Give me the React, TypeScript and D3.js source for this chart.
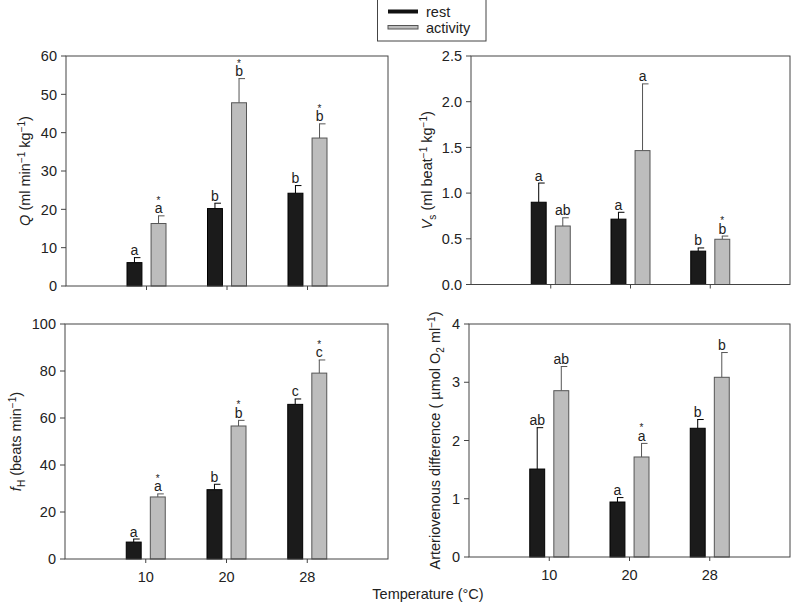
import React from 'react';
import * as d3 from 'd3';

const categories = ['10', '20', '28'];
const series = ['rest', 'activity'];

const qRest = [6.1, 20.2, 24.2];
const qRestSE = [1.3, 1.4, 2.0];
const qAct = [16.3, 47.8, 38.6];
const qActSE = [2.0, 6.3, 3.7];
const qRestLetters = ['a', 'b', 'b'];
const qActLetters = ['a', 'b', 'b'];
const qActStars = [true, true, true];

const vsRest = [0.9, 0.715, 0.365];
const vsRestSE = [0.21, 0.075, 0.035];
const vsAct = [0.64, 1.465, 0.495];
const vsActSE = [0.09, 0.73, 0.035];
const vsRestLetters = ['a', 'a', 'b'];
const vsActLetters = ['ab', 'a', 'b'];
const vsActStars = [false, false, true];

const fhRest = [7.2, 29.5, 65.8];
const fhRestSE = [1.3, 2.3, 2.3];
const fhAct = [26.4, 56.6, 79.1];
const fhActSE = [1.3, 2.4, 5.6];
const fhRestLetters = ['a', 'b', 'c'];
const fhActLetters = ['a', 'b', 'c'];
const fhActStars = [true, true, true];

const avRest = [1.51, 0.944, 2.21];
const avRestSE = [0.71, 0.076, 0.15];
const avAct = [2.855, 1.717, 3.085];
const avActSE = [0.415, 0.233, 0.425];
const avRestLetters = ['ab', 'a', 'b'];
const avActLetters = ['ab', 'a', 'b'];
const avActStars = [false, true, false];

const qTicks = [0, 10, 20, 30, 40, 50, 60];
const vsTicks = [0, 0.5, 1.0, 1.5, 2.0, 2.5];
const fhTicks = [0, 20, 40, 60, 80, 100];
const avTicks = [0, 1, 2, 3, 4];

const FONT = 'Liberation Sans, Arial, sans-serif';
const FS = 14.5;
const TEXT = '#222';
const AXIS = '#444';
const REST_FILL = '#1b1b1b';
const ACT_FILL = '#bdbdbd';
const ACT_STROKE = '#555';

type PanelProps = {
  x0: number; x1: number; y0: number; y1: number;
  domain: [number, number]; ticks: number[]; fmt: (v: number) => string;
  rest: number[]; restSE: number[]; act: number[]; actSE: number[];
  restLetters: string[]; actLetters: string[]; actStars: boolean[];
  showXLabels: boolean;
  label: React.ReactNode; labelX: number;
};

function Panel(p: PanelProps) {
  const x = d3.scalePoint<string>().domain(categories).range([p.x0, p.x1]).padding(1);
  const inner = d3.scaleBand<string>().domain(series).range([-19.5, 19.5]).paddingInner(0.38);
  const y = d3.scaleLinear().domain(p.domain).range([p.y1, p.y0]);
  const bw = inner.bandwidth();
  const bars: React.ReactNode[] = [];
  categories.forEach((c, i) => {
    const cx = x(c)!;
    const groups = [
      { s: 'rest', v: p.rest[i], se: p.restSE[i], l: p.restLetters[i], star: false, fill: REST_FILL, stroke: '#000' },
      { s: 'activity', v: p.act[i], se: p.actSE[i], l: p.actLetters[i], star: p.actStars[i], fill: ACT_FILL, stroke: ACT_STROKE },
    ];
    groups.forEach((g) => {
      const bx = cx + inner(g.s)!;
      const mid = bx + bw / 2;
      const top = y(g.v);
      const et = y(g.v + g.se);
      bars.push(
        <g key={c + g.s}>
          <line x1={mid} x2={mid} y1={top} y2={et} stroke={g.stroke} strokeWidth={1} />
          <line x1={mid - 0.5} x2={mid + 6} y1={et} y2={et} stroke={g.stroke} strokeWidth={1} />
          <rect x={bx} y={top} width={bw} height={p.y1 - top} fill={g.fill} stroke={g.stroke} strokeWidth={1} />
          <text x={mid} y={et - 2.5} textAnchor="middle" fontSize={14} fill={TEXT} fontFamily={FONT}>{g.l}</text>
          {g.star && (
            <text x={mid} y={et - 12} textAnchor="middle" fontSize={10} fill={TEXT} fontFamily={FONT}>*</text>
          )}
        </g>
      );
    });
  });
  return (
    <g>
      {bars}
      <rect x={p.x0} y={p.y0} width={p.x1 - p.x0} height={p.y1 - p.y0} fill="none" stroke={AXIS} strokeWidth={1} />
      {p.ticks.map((t) => (
        <g key={t}>
          <line x1={p.x0 - 5} x2={p.x0} y1={y(t)} y2={y(t)} stroke={AXIS} />
          <text x={p.x0 - 9} y={y(t)} dy="0.36em" textAnchor="end" fontSize={FS} fill={TEXT} fontFamily={FONT}>{p.fmt(t)}</text>
        </g>
      ))}
      {categories.map((c) => (
        <g key={c}>
          <line x1={x(c)!} x2={x(c)!} y1={p.y1} y2={p.y1 + 4} stroke={AXIS} />
          {p.showXLabels && (
            <text x={x(c)!} y={p.y1 + 22.5} textAnchor="middle" fontSize={FS} fill={TEXT} fontFamily={FONT}>{c}</text>
          )}
        </g>
      ))}
      <text transform={`translate(${p.labelX},${(p.y0 + p.y1) / 2}) rotate(-90)`} textAnchor="middle" dy="0.35em" fontSize={FS} fill={TEXT} fontFamily={FONT}>
        {p.label}
      </text>
    </g>
  );
}

const sup = (s: string, after: string) => (
  <>
    <tspan dy={-5.5} fontSize={10}>{s}</tspan>
    <tspan dy={5.5}>{after}</tspan>
  </>
);
const sub = (s: string, after: string) => (
  <>
    <tspan dy={4} fontSize={10}>{s}</tspan>
    <tspan dy={-4}>{after}</tspan>
  </>
);

export default function App() {
  const f1 = (v: number) => d3.format('.1f')(v);
  const f0 = (v: number) => d3.format('d')(v);
  return (
    <svg width={795} height={605} style={{ position: 'absolute', left: 0, top: 0, background: '#fff' }}>
      <rect x={0} y={0} width={795} height={605} fill="#fff" />
      <Panel x0={66} x1={388} y0={56} y1={286} domain={[0, 60]} ticks={qTicks} fmt={f0}
        rest={qRest} restSE={qRestSE} act={qAct} actSE={qActSE}
        restLetters={qRestLetters} actLetters={qActLetters} actStars={qActStars}
        showXLabels={false} labelX={25}
        label={<><tspan fontStyle="italic">Q</tspan><tspan> (ml min</tspan>{sup('−1', ' kg')}{sup('−1', ')')}</>} />
      <Panel x0={471} x1={790} y0={56} y1={284.5} domain={[0, 2.5]} ticks={vsTicks} fmt={f1}
        rest={vsRest} restSE={vsRestSE} act={vsAct} actSE={vsActSE}
        restLetters={vsRestLetters} actLetters={vsActLetters} actStars={vsActStars}
        showXLabels={false} labelX={427}
        label={<><tspan fontStyle="italic">V</tspan>{sub('s', ' (ml beat')}{sup('−1', ' kg')}{sup('−1', ')')}</>} />
      <Panel x0={65} x1={388} y0={324} y1={559} domain={[0, 100]} ticks={fhTicks} fmt={f0}
        rest={fhRest} restSE={fhRestSE} act={fhAct} actSE={fhActSE}
        restLetters={fhRestLetters} actLetters={fhActLetters} actStars={fhActStars}
        showXLabels={true} labelX={16}
        label={<><tspan fontStyle="italic">f</tspan>{sub('H', ' (beats min')}{sup('−1', ')')}</>} />
      <Panel x0={469} x1={790} y0={324} y1={557} domain={[0, 4]} ticks={avTicks} fmt={f0}
        rest={avRest} restSE={avRestSE} act={avAct} actSE={avActSE}
        restLetters={avRestLetters} actLetters={avActLetters} actStars={avActStars}
        showXLabels={true} labelX={435}
        label={<><tspan>Arteriovenous difference ( µmol O</tspan>{sub('2', ' ml')}{sup('−1', ')')}</>} />
      <text x={428} y={599} textAnchor="middle" fontSize={FS} fill={TEXT} fontFamily={FONT}>Temperature (°C)</text>
      <g>
        <rect x={377.5} y={-1} width={108.5} height={42} fill="#fff" stroke={AXIS} />
        <line x1={388} x2={418} y1={11.5} y2={11.5} stroke="#111" strokeWidth={4} />
        <rect x={388} y={25.5} width={30} height={3.5} fill={ACT_FILL} stroke={ACT_STROKE} strokeWidth={1} />
        <text x={426} y={16.5} fontSize={FS} fill={TEXT} fontFamily={FONT}>rest</text>
        <text x={426} y={33} fontSize={FS} fill={TEXT} fontFamily={FONT}>activity</text>
      </g>
    </svg>
  );
}
